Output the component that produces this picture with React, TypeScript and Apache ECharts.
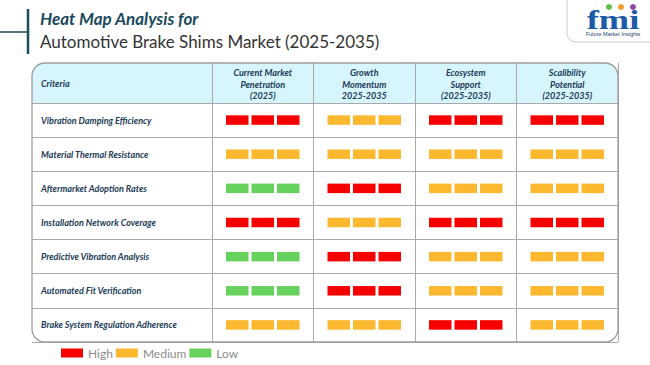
import React, { useEffect, useRef } from "react";
import * as echarts from "echarts";

const columns = [
  "Current Market\nPenetration\n(2025)",
  "Growth\nMomentum\n2025-2035",
  "Ecosystem\nSupport\n(2025-2035)",
  "Scalibility\nPotential\n(2025-2035)",
];

const criteria = [
  "Vibration Damping Efficiency",
  "Material Thermal Resistance",
  "Aftermarket Adoption Rates",
  "Installation Network Coverage",
  "Predictive Vibration Analysis",
  "Automated Fit Verification",
  "Brake System Regulation Adherence",
];

const levels = ["High", "Medium", "Low"];
const levelColors = ["#f70000", "#fcb82e", "#66d25d"];

// rating per criterion (row) for each column
const ratings = [
  ["High", "Medium", "High", "High"],
  ["Medium", "Medium", "Medium", "Medium"],
  ["Low", "High", "Medium", "Medium"],
  ["High", "Medium", "High", "High"],
  ["Low", "High", "Medium", "Medium"],
  ["Low", "High", "Medium", "Medium"],
  ["Medium", "Medium", "High", "Medium"],
];

const titleLine1 = "Heat Map Analysis for";
const titleLine2 = "Automotive Brake Shims Market (2025-2035)";

export default function App() {
  const ref = useRef<HTMLDivElement>(null);

  useEffect(() => {
    if (!ref.current) return;
    const chart = echarts.init(ref.current, undefined, { renderer: "svg" });
    const textColor = "#203a55";
    const lineColor = "#a9a9a9";
    const font = "Lato";

    const series = levels.map((lvl, li) => {
      const data: number[][] = [];
      ratings.forEach((row, r) =>
        row.forEach((v, c) => {
          if (v === lvl) data.push([c, r]);
        })
      );
      return {
        name: lvl,
        type: "custom",
        xAxisIndex: 1,
        yAxisIndex: 1,
        itemStyle: { color: levelColors[li] },
        data,
        renderItem: (params: any, api: any) => {
          const p = api.coord([api.value(0), api.value(1)]);
          const w = 22.5;
          const h = 9.5;
          const gap = 3;
          const total = 3 * w + 2 * gap;
          const children = [0, 1, 2].map((i) => ({
            type: "rect",
            shape: { x: p[0] - total / 2 + i * (w + gap), y: p[1] - h / 2, width: w, height: h },
            style: { fill: api.visual("color") },
          }));
          return { type: "group", children };
        },
      };
    });

    chart.setOption({
      animation: false,
      backgroundColor: "#ffffff",
      legend: {
        data: levels,
        left: 56,
        top: 342,
        icon: "rect",
        itemWidth: 22,
        itemHeight: 9,
        itemGap: 3,
        textStyle: { fontFamily: font, fontSize: 12, color: "#8c8c8c" },
        selectedMode: false,
      },
      grid: [
        { left: 32, top: 103, width: 180, height: 239 },
        { left: 212, top: 103, width: 406, height: 239 },
      ],
      xAxis: [
        {
          type: "category",
          gridIndex: 0,
          data: ["Criteria"],
          position: "top",
          axisLine: { show: true, lineStyle: { color: lineColor, width: 1 } },
          axisTick: { show: false },
          axisLabel: { show: false },
          splitLine: { show: false },
        },
        {
          type: "category",
          gridIndex: 1,
          data: columns,
          position: "top",
          axisLine: { show: true, lineStyle: { color: lineColor, width: 1 } },
          axisTick: { show: true, length: 40, interval: 0, lineStyle: { color: lineColor, width: 1 } },
          axisLabel: {
            interval: 0,
            margin: 19,
            verticalAlign: "middle",
            lineHeight: 11.5,
            fontFamily: font,
            fontSize: 9,
            fontWeight: "bold",
            fontStyle: "italic",
            color: textColor,
          },
          splitLine: { show: true, interval: 0, lineStyle: { color: lineColor, width: 1 } },
        },
      ],
      yAxis: [
        {
          type: "category",
          gridIndex: 0,
          data: criteria,
          inverse: true,
          axisLine: { show: false },
          axisTick: { show: false },
          axisLabel: {
            inside: true,
            margin: 9,
            interval: 0,
            fontFamily: font,
            fontSize: 9,
            fontWeight: "bold",
            fontStyle: "italic",
            color: textColor,
          },
          splitLine: { show: true, interval: 0, lineStyle: { color: lineColor, width: 1 } },
        },
        {
          type: "category",
          gridIndex: 1,
          data: criteria,
          inverse: true,
          axisLine: { show: true, lineStyle: { color: lineColor, width: 1 } },
          axisTick: { show: false },
          axisLabel: { show: false },
          splitLine: { show: true, interval: 0, lineStyle: { color: lineColor, width: 1 } },
        },
      ],
      graphic: [
        {
          type: "rect",
          z: -1,
          shape: { x: 32, y: 63, width: 586, height: 40, r: [13, 13, 0, 0] },
          style: { fill: "#d6f5fd" },
        },
        {
          type: "rect",
          z: 10,
          shape: { x: 32, y: 63, width: 586, height: 279, r: 13 },
          style: { fill: "none", stroke: "#9c9c9c", lineWidth: 1.3 },
        },
        {
          type: "text",
          x: 41,
          y: 83,
          style: {
            text: "Criteria",
            fontFamily: font,
            fontSize: 9,
            fontWeight: "bold",
            fontStyle: "italic",
            fill: textColor,
            verticalAlign: "middle",
          },
        },
        // title decoration
        {
          type: "line",
          shape: { x1: 28, y1: 9, x2: 28, y2: 54 },
          style: { stroke: "#1d4c5c", lineWidth: 2.5 },
        },
        {
          type: "line",
          shape: { x1: 0, y1: 32, x2: 28, y2: 32 },
          style: { stroke: "#1d4c5c", lineWidth: 1.5 },
        },
        {
          type: "text",
          x: 40,
          y: 18,
          style: {
            text: titleLine1,
            fontFamily: font,
            fontSize: 17,
            fontWeight: "bold",
            fontStyle: "italic",
            fill: "#1b4a5c",
            verticalAlign: "middle",
          },
        },
        {
          type: "text",
          x: 40,
          y: 41,
          style: {
            text: titleLine2,
            fontFamily: font,
            fontSize: 17,
            fill: "#333333",
            verticalAlign: "middle",
          },
        },
        // logo
        {
          type: "rect",
          shape: { x: 567, y: -12, width: 100, height: 54, r: 9 },
          style: { fill: "#ffffff", stroke: "#c9c9c9", lineWidth: 1 },
        },
        {
          type: "text",
          x: 613,
          y: 20,
          scaleX: 1.3,
          style: {
            text: "fmi",
            fontFamily: "Liberation Serif",
            fontWeight: "bold",
            fontSize: 28,
            fill: "#1b5aa6",
            align: "center",
            verticalAlign: "middle",
          },
        },
        { type: "circle", shape: { cx: 609, cy: 7, r: 3 }, style: { fill: "#5cbf4a" } },
        { type: "circle", shape: { cx: 621, cy: 7, r: 3 }, style: { fill: "#f39a2b" } },
        { type: "circle", shape: { cx: 633, cy: 7, r: 3 }, style: { fill: "#8d4aa6" } },
        {
          type: "text",
          x: 613,
          y: 34,
          style: {
            text: "Future Market Insights",
            fontFamily: "Liberation Sans",
            fontSize: 5.5,
            fill: "#1b3f73",
            align: "center",
            verticalAlign: "middle",
          },
        },
      ],
      series,
    });

    return () => chart.dispose();
  }, []);

  return (
    <div
      ref={ref}
      style={{ position: "fixed", left: 0, top: 0, width: 650, height: 365 }}
    />
  );
}
